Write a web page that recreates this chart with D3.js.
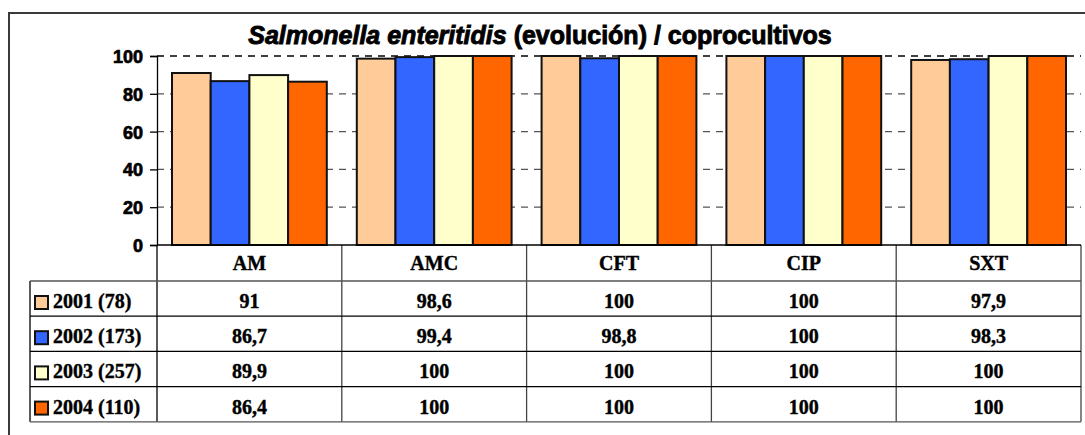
<!DOCTYPE html>
<meta charset="utf-8">
<style>
  body { margin: 0; background: #fff; }
  svg { display: block; }
  .axis text { font-family: "Liberation Sans", Arial, sans-serif; font-weight: bold; font-size: 18px; stroke: #000; stroke-width: 0.7px; }
  .tbl text { font-family: "Liberation Serif", "Times New Roman", serif; font-weight: bold; font-size: 20px; stroke: #000; stroke-width: 0.4px; }
</style>
<script src="https://d3js.org/d3.v7.min.js"></script>
<div id="chart"></div>
<script>
// data
var categories = ["AM", "AMC", "CFT", "CIP", "SXT"];
var seriesNames = ["2001 (78)", "2002 (173)", "2003 (257)", "2004 (110)"];
var v2001 = [91, 98.6, 100, 100, 97.9];
var v2002 = [86.7, 99.4, 98.8, 100, 98.3];
var v2003 = [89.9, 100, 100, 100, 100];
var v2004 = [86.4, 100, 100, 100, 100];
var colors = ["#FFCC99", "#3366FF", "#FFFFCC", "#FF6600"];
var yTicks = [0, 20, 40, 60, 80, 100];

var allValues = [v2001, v2002, v2003, v2004];

var W = 1085, H = 435;
var plotLeft = 157, plotRight = 1081, plotTop = 56, plotBottom = 245;
var tableLeft = 30, headH = 36, rowH = 35.2;

var svg = d3.select("#chart").append("svg")
    .attr("width", W)
    .attr("height", H);

// outer frame (cut off at right and bottom)
svg.append("rect")
    .attr("x", 9).attr("y", 13)
    .attr("width", W + 20).attr("height", H + 20)
    .attr("fill", "none")
    .attr("stroke", "#3a3a3a")
    .attr("stroke-width", 2);

// title
var title = svg.append("text")
    .attr("x", 540).attr("y", 44)
    .attr("text-anchor", "middle")
    .style("font-family", "'Liberation Sans', Arial, sans-serif")
    .style("font-weight", "bold")
    .style("font-size", "25px")
    .attr("stroke", "#000")
    .attr("stroke-width", 0.9);
title.append("tspan").style("font-style", "italic").text("Salmonella enteritidis");
title.append("tspan").text(" (evolución) / coprocultivos");

var y = d3.scaleLinear().domain([0, 100]).range([plotBottom, plotTop]);

var x0 = d3.scaleBand()
    .domain(categories)
    .range([plotLeft, plotRight])
    .padding(0);

var x1 = d3.scaleBand()
    .domain(seriesNames)
    .range([15, x0.bandwidth() - 15])
    .padding(0);

// dashed gridlines
svg.append("g")
    .selectAll("line")
    .data(yTicks.filter(function (d) { return d > 0; }))
    .enter()
    .append("line")
    .attr("x1", plotLeft)
    .attr("x2", plotRight)
    .attr("y1", function (d) { return y(d); })
    .attr("y2", function (d) { return y(d); })
    .attr("stroke", function (d) { return d == 100 ? "#000" : "#555"; })
    .attr("stroke-width", 1.3)
    .attr("stroke-dasharray", "7,6");

// bars
var groups = svg.append("g")
    .selectAll("g")
    .data(categories)
    .enter()
    .append("g")
    .attr("transform", function (d) { return "translate(" + x0(d) + ",0)"; });

groups.selectAll("rect")
    .data(function (c, ci) {
        return seriesNames.map(function (s, si) {
            return { series: s, idx: si, value: allValues[si][ci] };
        });
    })
    .enter()
    .append("rect")
    .attr("x", function (d) { return x1(d.series); })
    .attr("y", function (d) { return y(d.value); })
    .attr("width", x1.bandwidth())
    .attr("height", function (d) { return plotBottom - y(d.value); })
    .attr("fill", function (d) { return colors[d.idx]; })
    .attr("stroke", "#111")
    .attr("stroke-width", 2);

// y axis
var yAxis = svg.append("g")
    .attr("class", "axis")
    .attr("transform", "translate(" + plotLeft + ",0)")
    .call(d3.axisLeft(y).tickValues(yTicks).tickSize(7).tickPadding(7));
yAxis.select(".domain").attr("stroke", "#000").attr("stroke-width", 1.3);
yAxis.selectAll(".tick line").attr("stroke", "#000").attr("stroke-width", 1.3);
yAxis.selectAll(".tick text").attr("fill", "#000").attr("dy", "0.36em");

// data table
var tbl = svg.append("g").attr("class", "tbl");
var tableBottom = plotBottom + headH + rowH * seriesNames.length;

// header column separators
tbl.selectAll("line.vsep")
    .data(categories.concat(["end"]))
    .enter()
    .append("line")
    .attr("x1", function (d) { return d == "end" ? plotRight : x0(d); })
    .attr("x2", function (d) { return d == "end" ? plotRight : x0(d); })
    .attr("y1", plotBottom)
    .attr("y2", tableBottom)
    .attr("stroke", function (d, i) { return i == 0 ? "#000" : "#444"; })
    .attr("stroke-width", 1.3);

// left edge of table body
tbl.append("line")
    .attr("x1", tableLeft).attr("x2", tableLeft)
    .attr("y1", plotBottom + headH).attr("y2", tableBottom)
    .attr("stroke", "#000").attr("stroke-width", 1.3);

// axis baseline / header top
tbl.append("line")
    .attr("x1", plotLeft).attr("x2", plotRight)
    .attr("y1", plotBottom).attr("y2", plotBottom)
    .attr("stroke", "#000").attr("stroke-width", 1.5);

// row lines
tbl.selectAll("line.row")
    .data(d3.range(seriesNames.length + 1))
    .enter()
    .append("line")
    .attr("x1", tableLeft).attr("x2", plotRight)
    .attr("y1", function (i) { return plotBottom + headH + i * rowH; })
    .attr("y2", function (i) { return plotBottom + headH + i * rowH; })
    .attr("stroke", function (i) { return (i == 0 || i == seriesNames.length) ? "#555" : "#000"; })
    .attr("stroke-width", 1.3);

// header labels
tbl.selectAll("text.head")
    .data(categories)
    .enter()
    .append("text")
    .attr("x", function (d) { return x0(d) + x0.bandwidth() / 2; })
    .attr("y", plotBottom + 25)
    .attr("text-anchor", "middle")
    .text(function (d) { return d; });

// rows: legend key, series name, values
var rows = tbl.selectAll("g.row")
    .data(seriesNames)
    .enter()
    .append("g")
    .attr("transform", function (d, i) { return "translate(0," + (plotBottom + headH + i * rowH) + ")"; });

rows.append("rect")
    .attr("x", 35).attr("y", 15)
    .attr("width", 13).attr("height", 13)
    .attr("fill", function (d, i) { return colors[i]; })
    .attr("stroke", "#111")
    .attr("stroke-width", 2);

rows.append("text")
    .attr("x", 53).attr("y", 27)
    .text(function (d) { return d; });

rows.selectAll("text.val")
    .data(function (d, i) { return allValues[i]; })
    .enter()
    .append("text")
    .attr("x", function (d, ci) { return x0(categories[ci]) + x0.bandwidth() / 2; })
    .attr("y", 27)
    .attr("text-anchor", "middle")
    .text(function (d) { return String(d).replace(".", ","); });
</script>
